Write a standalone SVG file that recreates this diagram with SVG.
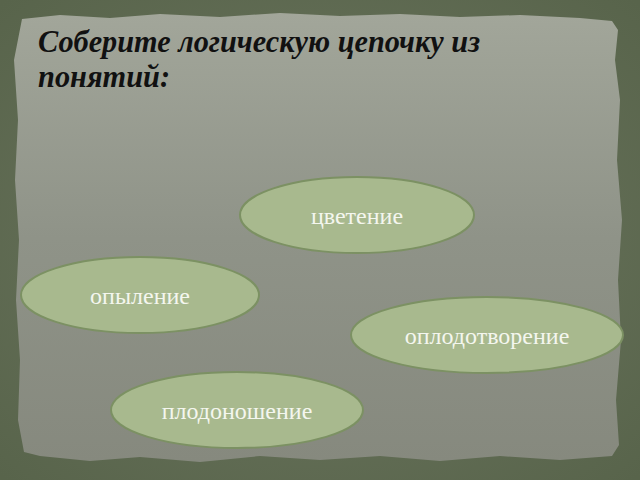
<svg xmlns="http://www.w3.org/2000/svg" width="640" height="480" viewBox="0 0 640 480">
<defs>
<linearGradient id="paper" x1="0" y1="0" x2="0" y2="1">
<stop offset="0" stop-color="#a2a69a"/>
<stop offset="0.5" stop-color="#8f9388"/>
<stop offset="1" stop-color="#86897e"/>
</linearGradient>
<radialGradient id="bg" cx="0.5" cy="0.5" r="0.7">
<stop offset="0" stop-color="#6d7760"/>
<stop offset="1" stop-color="#58644b"/>
</radialGradient>
</defs>
<style>
.node ellipse{fill:#a8b98e;stroke:#7c9163;stroke-width:2}
.node text{font-family:"Liberation Serif","DejaVu Serif",serif;font-size:24px;fill:#f4f6ef;text-anchor:middle}
.title{font-family:"Liberation Serif",serif;font-weight:bold;font-style:italic;font-size:31px;fill:#111111}
</style>
<rect width="640" height="480" fill="url(#bg)"/>
<path d="M22,19 L60,15 L110,18 L160,14 L220,17 L280,13 L340,16 L400,14 L460,17 L520,15 L580,18 L612,21 L618,30 L615,60 L620,100 L617,160 L622,220 L618,280 L621,340 L616,400 L619,445 L612,456 L560,460 L500,456 L440,461 L380,456 L320,460 L260,456 L200,462 L140,457 L90,461 L40,456 L24,452 L18,420 L20,360 L16,300 L19,240 L15,180 L18,120 L14,60 Z" fill="url(#paper)"/>
<text class="title" x="38" y="52" textLength="442" lengthAdjust="spacingAndGlyphs">Соберите логическую цепочку из</text>
<text class="title" x="38" y="87" textLength="132" lengthAdjust="spacingAndGlyphs">понятий:</text>
<g id="connectors"></g>
<g id="node-cvetenie" class="node"><ellipse cx="357" cy="215" rx="117" ry="38"/><text x="357" y="224">цветение</text></g>
<g id="node-opylenie" class="node"><ellipse cx="140" cy="295" rx="119" ry="38"/><text x="140" y="304">опыление</text></g>
<g id="node-oplodotvorenie" class="node"><ellipse cx="487" cy="335" rx="136" ry="38"/><text x="487" y="344">оплодотворение</text></g>
<g id="node-plodonoshenie" class="node"><ellipse cx="237" cy="410" rx="126" ry="38"/><text x="237" y="419">плодоношение</text></g>
</svg>
